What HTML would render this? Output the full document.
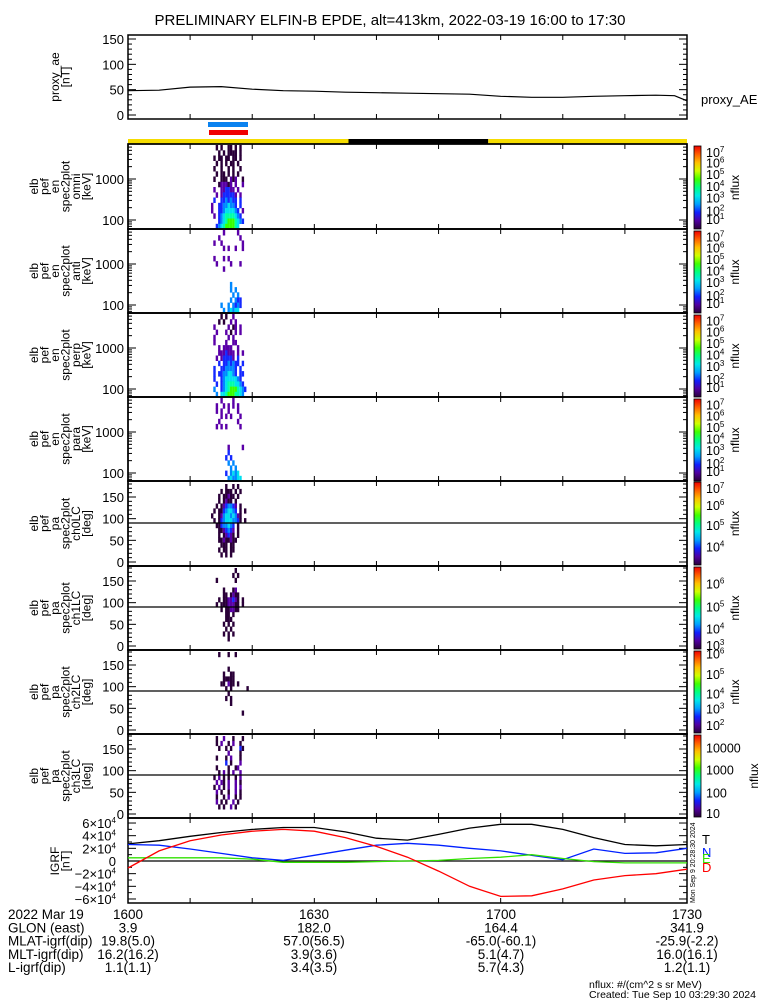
<!DOCTYPE html>
<html><head><meta charset="utf-8"><style>
html,body{margin:0;padding:0;background:#fff;}
svg{display:block;font-family:"Liberation Sans",sans-serif;}
</style></head><body>
<svg id="fig" width="775" height="1000" viewBox="0 0 775 1000" xmlns="http://www.w3.org/2000/svg">
<text x="390" y="25" font-size="15" text-anchor="middle">PRELIMINARY ELFIN-B EPDE, alt=413km, 2022-03-19 16:00 to 17:30</text>
<g id="root"></g>
</svg>
<script>
// ---------- data ----------
const aeTimes = [0,5,10,15,20,25,30,35,40,45,50,55,60,65,70,75,80,85,88,90];
const aeValues = [48,49,55,56,51,48,47,45,44,43,42,41,37,35,35,37,38,39,38,28];
const igrfTimes = [0,5,10,15,20,25,30,35,40,45,50,55,60,65,70,75,80,85,90];
const igrfT = [2.7,3.2,3.9,4.5,5.0,5.3,5.3,4.6,3.6,3.3,4.2,5.2,5.8,5.8,5.0,3.7,2.6,2.4,2.6];
const igrfN = [2.6,2.5,1.9,1.2,0.5,0.1,0.9,1.7,2.5,2.8,2.5,2.0,1.6,0.9,0.2,1.9,1.2,1.3,2.0];
const igrfE = [0.5,0.5,0.5,0.5,0.3,-0.2,-0.2,-0.2,-0.1,0.0,0.1,0.4,0.6,1.0,0.4,-0.1,-0.3,-0.3,-0.3];
const igrfD = [-1.1,1.6,3.2,4.1,4.7,5.0,4.7,3.7,2.3,0.6,-1.6,-4.0,-5.6,-5.5,-4.4,-3.0,-2.3,-2.0,-1.3];
const sunBarStart = [0, 35.5, 58];
const sunBarEnd = [35.5, 58, 90];
const sunBarColor = ['#f5dc00','#000000','#f5dc00'];
const specStartMin = 12.6;   // first time column (minutes after 16:00)
const specColMin = 0.38;     // column width in minutes
const omniGrid = [
"....0.0..00.0.0....",
".....0.0.0000.0....",
"...0.00.00.00.0....",
"....0.0.0.00.0.....",
"...0..0..0.0..0....",
"....0.00.0.0.0.....",
"...0..000.101..0...",
".....011101.1..1...",
"...1..112211.1.....",
"....1.1222221.1....",
"...2..2232322.2....",
"..1..22334332.2....",
"..1..223444432.1...",
"...1.2345555432....",
".....23456665432...",
"....2345666654.....",
];
const antiGrid = [
".......1.....1.....",
".....1........1....",
"...1..1........1...",
".......1.1..1..1...",
"...................",
"...1...1.1.........",
"....1.....1...1....",
".......1...........",
"...................",
"...................",
"..........3........",
"..........3.3......",
"...........3.3.....",
"..........3.322....",
"......3..3.3232....",
".......3.34344.....",
];
const perpGrid = [
"......0.0..1.......",
".....0.0..1.1......",
"...1.....1.01.1....",
"....1...1.0.1.1....",
"...1.....1.1.......",
"...1....1..11......",
".....1.1111..1.....",
".....1112111.1.1...",
"....1.122221.2.....",
".....2.2232322.2...",
"...2..2233332.2....",
"...2.22334432.22...",
"...2..234444432....",
"....2.2345554432...",
"...3..23456665432..",
"....3.4456665543...",
];
const paraGrid = [
"......1....1.......",
"....1..1.1.1.1.....",
"....1.1..1...1.....",
"......1.1.1...1....",
".....1.......1.....",
"....1.1.1.....1....",
"...................",
"...................",
"...................",
".........1.....1...",
".........2.........",
"........2.2........",
".........3.3.......",
"..........3.3......",
"........2.3434.....",
".........343344....",
];
const pa0Grid = [
"........0..0.0.....",
"......0.000.0.0....",
".....0.00100.0.....",
".....0.0100.0......",
"....0.0123321.0....",
"...0.00234432.0.0..",
"..0..0134434310....",
"...0.0234443320.0..",
"....00233432.0.....",
".....0012321.0.....",
".....0.01210.0.....",
".....00100100......",
"......000.00.......",
".....0.00.00.......",
"......0.0.0........",
"...................",
];
const pa1Grid = [
"............0......",
"...........0.0.....",
"....0.......0......",
"...................",
".......0...01......",
".......00.0100.....",
".....0.0011210.0...",
"....0.00011100.0...",
"......0.001100.....",
"........00.0.......",
"........000........",
".......0.0.0.......",
"........0.0........",
".......0.0.0.......",
".........0.........",
"...................",
];
const pa2Grid = [
".....0...0..0......",
"...................",
"...................",
".........0.........",
".......0..00.......",
".......00000.......",
"......00.100.0.....",
"........0.0......0.",
".........0.........",
"........0.0........",
"..........0........",
"...................",
"...............0...",
"...................",
"...................",
"...................",
];
const pa3Grid = [
"....0..1...0...0...",
"....0.1..0.1..0....",
".....0..0.0...20...",
".........1....0....",
"....0...0.1...0....",
"........2.0...1....",
"....0....0..01.....",
".....0.1.0.1..1....",
"...0.1.0.0..0.1....",
"....1.10.1..1.0....",
"...0.1.0.1..1.1....",
"....1.0..0..1.0....",
"....0..0.1..0.0....",
"....1.0.0..1.0.....",
".....0.0..1.0......",
"...................",
];
const cmap = ['#2a0038','#5a00a8','#1428ff','#0088ff','#00e0f0','#00ffa8','#38ff00'];

// ---------- helpers ----------
const NS='http://www.w3.org/2000/svg';
const root=document.getElementById('root');
function mk(tag,attrs,parent){const e=document.createElementNS(NS,tag);for(const k in attrs)e.setAttribute(k,attrs[k]);(parent||root).appendChild(e);return e;}
const X0=128,X1=687;
function xT(m){return X0+(X1-X0)*m/90;}

function frame(y0,y1,name){
  const g=mk('g',{});
  
  
  mk('rect',{x:X0,y:y0,width:X1-X0,height:y1-y0,fill:'none',stroke:'#000','stroke-width':1.5},g);
  for(let m=10;m<90;m+=10){const x=xT(m);mk('line',{x1:x,x2:x,y1:y1,y2:y1-5,stroke:'#000'},g);mk('line',{x1:x,x2:x,y1:y0,y2:y0+5,stroke:'#000'},g);}
  return g;
}
function leftLabel(lines,cy,g){
  const n=lines.length, sp=10.5, cx=60;
  lines.forEach((s,i)=>{
    const x=cx-(n-1)*sp/2+i*sp+4;
    const t=mk('text',{x:x,y:cy,'font-size':12,'text-anchor':'middle',transform:`rotate(-90 ${x} ${cy})`},g);
    t.textContent=s;
  });
}
function ytick(y,label,g,major){
  mk('line',{x1:X0,x2:X0+(major?8:4),y1:y,y2:y,stroke:'#000'},g);
  mk('line',{x1:X1,x2:X1-(major?8:4),y1:y,y2:y,stroke:'#000'},g);
  if(label!==null){const t=mk('text',{x:X0-4,y:y+5,'font-size':13,'text-anchor':'end'},g);t.textContent=label;}
}

// ---------- proxy AE ----------
(function(){
  const y0=35,y1=119; const yv=v=>115-v*(76/150);
  const g=frame(y0,y1,'proxy-ae-panel');
  for(let v=0;v<=150;v+=10) ytick(yv(v),(v%50===0)?String(v):null,g,v%50===0);
  leftLabel(['proxy_ae','[nT]'],77,g);
  const pts=aeTimes.map((t,i)=>xT(t).toFixed(1)+','+yv(aeValues[i]).toFixed(1)).join(' ');
  const l=mk('polyline',{points:pts,fill:'none',stroke:'#000','stroke-width':1.2},g);
  
  
  const t=mk('text',{x:701,y:104,'font-size':13},g);t.textContent='proxy_AE';
})();

// ---------- status bars ----------
(function(){
  const b=mk('rect',{x:208,y:122,width:40,height:5,fill:'#0a82f0'});
  
  
  const r=mk('rect',{x:209,y:130,width:39,height:5,fill:'#f00000'});
  
  
  sunBarStart.forEach((s,i)=>{
    const e=mk('rect',{x:xT(s),y:139,width:xT(sunBarEnd[i])-xT(s),height:5,fill:sunBarColor[i]});
    
    
  });
})();

// ---------- spectrograms ----------
function colorbar(y0,y1,labels,name){
  const g=mk('g',{});
  
  
  const id='cb'+Math.round(y0);
  const d=mk('defs',{},g);const lg=mk('linearGradient',{id:id,x1:0,y1:1,x2:0,y2:0},d);
  ['#2a0038','#5000a0','#1020ff','#00a0ff','#00e8e8','#00ff80','#40ff00','#d0ff00','#ffc000','#ff6000','#f00000'].forEach((c,i,a)=>mk('stop',{offset:i/(a.length-1),'stop-color':c},lg));
  mk('rect',{x:694,y:y0,width:7,height:y1-y0,fill:`url(#${id})`,stroke:'#000','stroke-width':0.8},g);
  labels.forEach(([frac,txt,sup])=>{
    const y=y1-(y1-y0)*frac;
    const t=mk('text',{x:706,y:y+5,'font-size':12.5},g);t.textContent=txt;
    if(sup){const s=mk('tspan',{dy:-5,'font-size':8},t);s.textContent=sup;}
  });
  const t=mk('text',{x:0,y:0,'font-size':12,transform:`translate(${txt0(labels)} ${(y0+y1)/2}) rotate(-90)`,'text-anchor':'middle'},g);t.textContent='nflux';
}
function txt0(labels){return labels.some(l=>l[1].length>4)?758:739;}
function drawGrid(grid,y0,y1,g){
  const rows=grid.length,rh=(y1-y0)/rows;
  grid.forEach((row,ri)=>{
    for(let ci=0;ci<row.length;ci++){
      const ch=row[ci]; if(ch==='.')continue;
      const x=xT(specStartMin+ci*specColMin);
      const c=mk('rect',{x:x.toFixed(1),y:(y0+ri*rh).toFixed(1),width:2.4,height:(rh+0.3).toFixed(1),fill:cmap[+ch]},g);
      
      
    }
  });
}
const panelTops=[144,229,313,397,481,566,650,734,818];
const enNames=['omni','anti','perp','para'];
const enGrids=[omniGrid,antiGrid,perpGrid,paraGrid];
const logLab=[[0.93,'10','7'],[0.8,'10','6'],[0.66,'10','5'],[0.52,'10','4'],[0.38,'10','3'],[0.22,'10','2'],[0.12,'10','1']];
for(let p=0;p<4;p++){
  const y0=panelTops[p],y1=panelTops[p+1];
  const g=frame(y0,y1,'energy-spectrogram-'+enNames[p]);
  drawGrid(enGrids[p],y0+1,y1,g);
  const yE=e=>y0+35-(Math.log10(e)-3)*41;
  [60,70,80,90,100,200,300,400,500,600,700,800,900,1000,2000,3000,4000,5000,6000,7000].forEach(e=>{const y=yE(e);if(y>y0+1&&y<y1)ytick(y,(e===100||e===1000)?String(e):null,g,e===100||e===1000);});
  leftLabel(['elb','pef','en','spec2plot',enNames[p],'[keV]'],(y0+y1)/2,g);
  mk('rect',{x:X0,y:y0,width:X1-X0,height:y1-y0,fill:'none',stroke:'#000','stroke-width':1.5},g);
  colorbar(y0+2,y1,logLab,'colorbar-'+enNames[p]);
}
const paNames=['ch0LC','ch1LC','ch2LC','ch3LC'];
const paGrids=[pa0Grid,pa1Grid,pa2Grid,pa3Grid];
const paLabs=[
 [[0.93,'10','7'],[0.72,'10','6'],[0.48,'10','5'],[0.22,'10','4']],
 [[0.8,'10','6'],[0.52,'10','5'],[0.25,'10','4'],[0.05,'10','3']],
 [[0.97,'10','6'],[0.72,'10','5'],[0.48,'10','4'],[0.3,'10','3'],[0.1,'10','2']],
 [[0.85,'10000'],[0.58,'1000'],[0.3,'100'],[0.05,'10']]
];
for(let p=0;p<4;p++){
  const y0=panelTops[p+4],y1=panelTops[p+5];
  const g=frame(y0,y1,'pitch-angle-spectrogram-'+paNames[p]);
  const yP=a=>y1-4-a*(78/180);
  drawGrid(paGrids[p],yP(180),yP(0),g);
  for(let a=0;a<=180;a+=10){ytick(yP(a),(a%50===0)?String(a):null,g,a%50===0);}
  const l=mk('line',{x1:X0,x2:X1,y1:yP(90),y2:yP(90),stroke:'#000','stroke-width':1.3},g);
  
  
  leftLabel(['elb','pef','pa','spec2plot',paNames[p],'[deg]'],(y0+y1)/2,g);
  mk('rect',{x:X0,y:y0,width:X1-X0,height:y1-y0,fill:'none',stroke:'#000','stroke-width':1.5},g);
  colorbar(y0+1,y1-1,paLabs[p],'colorbar-'+paNames[p]);
}

// ---------- IGRF ----------
(function(){
  const y0=818,y1=903; const yv=v=>861-v*6.33;
  const g=frame(y0,y1,'igrf-panel');
  for(let v=-6;v<=6;v+=1) ytick(yv(v),null,g,v%2===0);
  [[6,'6×10'],[4,'4×10'],[2,'2×10'],[0,'0'],[-2,'−2×10'],[-4,'−4×10'],[-6,'−6×10']].forEach(([v,s])=>{
    const t=mk('text',{x:X0-12,y:yv(v)+5,'font-size':13,'text-anchor':'end'},g);t.textContent=s;
    if(v!==0){const sp=mk('tspan',{dy:-5,'font-size':8},t);sp.textContent='4';}
  });
  leftLabel(['IGRF','[nT]'],861,g);
  mk('line',{x1:X0,x2:X1,y1:yv(0),y2:yv(0),stroke:'#000','stroke-width':1.2},g);
  [[igrfT,'#000','igrf-total-line'],[igrfN,'#0020ff','igrf-north-line'],[igrfE,'#30e000','igrf-east-line'],[igrfD,'#ff0000','igrf-down-line']].forEach(([arr,c,n])=>{
    const pts=igrfTimes.map((t,i)=>xT(t).toFixed(1)+','+yv(arr[i]).toFixed(1)).join(' ');
    const l=mk('polyline',{points:pts,fill:'none',stroke:c,'stroke-width':1.3},g);
    
    
  });
  [['T','#000',844],['N','#0020ff',857],['E','#30e000',863],['D','#ff0000',872]].forEach(([s,c,y])=>{const t=mk('text',{x:702,y:y,'font-size':13,fill:c},g);t.textContent=s;});
  const t=mk('text',{x:0,y:0,'font-size':7,transform:'translate(695 903) rotate(-90)'},g);t.textContent='Mon Sep  9 20:28:30 2024';
})();

// ---------- bottom annotation ----------
(function(){
  const g=mk('g',{});
  
  
  const rows=['2022 Mar 19','GLON (east)','MLAT-igrf(dip)','MLT-igrf(dip)','L-igrf(dip)'];
  const cols=[[128,'1600','3.9','19.8(5.0)','16.2(16.2)','1.1(1.1)'],[314,'1630','182.0','57.0(56.5)','3.9(3.6)','3.4(3.5)'],[501,'1700','164.4','-65.0(-60.1)','5.1(4.7)','5.7(4.3)'],[687,'1730','341.9','-25.9(-2.2)','16.0(16.1)','1.2(1.1)']];
  rows.forEach((r,i)=>{const t=mk('text',{x:8,y:919+i*13.3,'font-size':13.5},g);t.textContent=r;});
  cols.forEach(c=>{for(let i=0;i<5;i++){const t=mk('text',{x:c[0],y:919+i*13.3,'font-size':13.5,'text-anchor':'middle'},g);t.textContent=c[i+1];}});
  const a=mk('text',{x:589,y:988,'font-size':10.5},g);a.textContent='nflux: #/(cm^2 s sr MeV)';
  const b=mk('text',{x:589,y:998,'font-size':10.5},g);b.textContent='Created: Tue Sep 10 03:29:30 2024';
})();
</script>
</body></html>
